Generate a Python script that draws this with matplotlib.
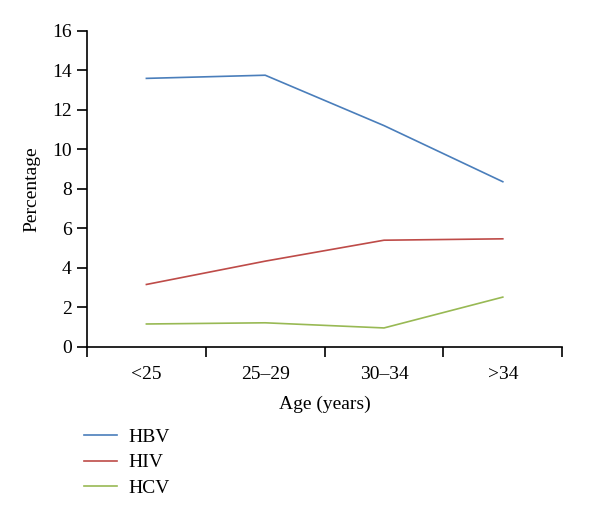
import matplotlib.pyplot as plt
from matplotlib.ticker import FixedLocator

plt.rcParams['font.family'] = ['Liberation Serif', 'DejaVu Serif']

age_groups = ['<25', '25\u201329', '30\u201334', '>34']
hbv = [13.59, 13.75, 11.2, 8.36]
hiv = [3.16, 4.34, 5.40, 5.47]
hcv = [1.16, 1.22, 0.96, 2.52]

fig = plt.figure(figsize=(6, 5.17), dpi=100)
ax = fig.add_axes([0.145, 0.329, 0.792, 0.6115])

x = list(range(len(age_groups)))
ax.plot(x, hbv, color='#4a7ebb', lw=1.2, label='HBV')
ax.plot(x, hiv, color='#be4b48', lw=1.2, label='HIV')
ax.plot(x, hcv, color='#98b954', lw=1.2, label='HCV')

ax.set_xlim(-0.5, len(age_groups) - 0.5)
ax.set_ylim(0, 16)
ax.set_yticks(range(0, 17, 2))
ax.xaxis.set_major_locator(FixedLocator([i - 0.5 for i in range(len(age_groups) + 1)]))
ax.set_xticklabels([])
ax.xaxis.set_minor_locator(FixedLocator(x))
ax.set_xticklabels(age_groups, minor=True)
ax.tick_params(axis='x', which='major', direction='out', length=7, width=1.2)
ax.tick_params(axis='x', which='minor', length=0, pad=14, labelsize=14)
ax.tick_params(axis='y', direction='out', length=7, width=1.2, labelsize=14, pad=4)

for s in ['top', 'right']:
    ax.spines[s].set_visible(False)
for s in ['left', 'bottom']:
    ax.spines[s].set_linewidth(1.2)

ax.set_xlabel('Age (years)', fontsize=14, labelpad=9)
ax.set_ylabel('Percentage', fontsize=14, labelpad=8)

ax.legend(loc='upper left', bbox_to_anchor=(0.14, 0.172), bbox_transform=fig.transFigure,
          frameon=False, fontsize=14, handlelength=1.7, handletextpad=0.6,
          labelspacing=0.42, borderaxespad=0, borderpad=0)

fig.savefig('out.png', dpi=100)
